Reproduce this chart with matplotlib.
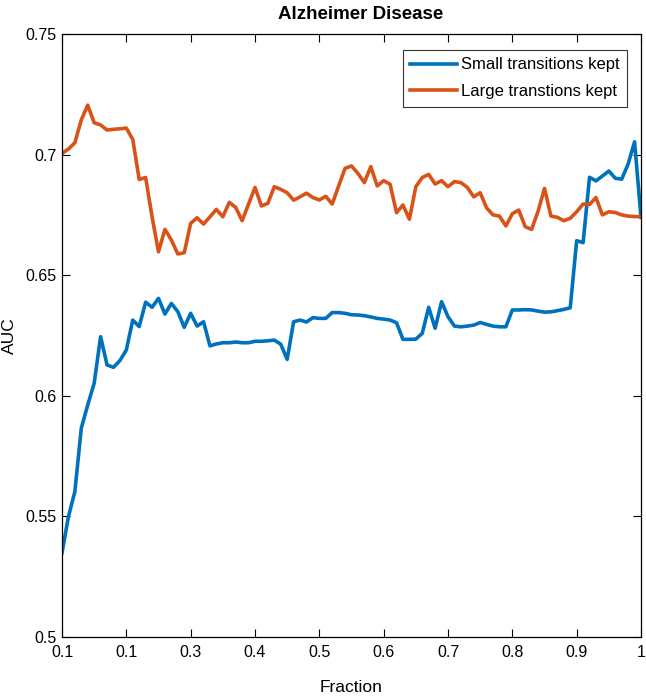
import numpy as np
import matplotlib
matplotlib.use("Agg")
import matplotlib.pyplot as plt

plt.rcParams['font.family'] = ['Liberation Sans', 'DejaVu Sans']

# ─── Data ────────────────────────────────────────────────────────────────────
fraction = np.round(np.arange(0.10, 1.0001, 0.01), 2)

small_kept = [
    0.5349, 0.5499, 0.5603, 0.5866, 0.5962, 0.6052, 0.6245, 0.6128, 0.6118, 0.6146,
    0.6190, 0.6314, 0.6287, 0.6388, 0.6367, 0.6404, 0.6339, 0.6383, 0.6349, 0.6284,
    0.6342, 0.6289, 0.6307, 0.6207, 0.6215, 0.6220, 0.6220, 0.6223, 0.6220, 0.6220,
    0.6226, 0.6226, 0.6228, 0.6231, 0.6214, 0.6151, 0.6307, 0.6314, 0.6306, 0.6324,
    0.6321, 0.6321, 0.6345, 0.6345, 0.6342, 0.6336, 0.6335, 0.6332, 0.6327, 0.6321,
    0.6318, 0.6314, 0.6303, 0.6234, 0.6234, 0.6235, 0.6259, 0.6367, 0.6280, 0.6390,
    0.6328, 0.6289, 0.6286, 0.6289, 0.6293, 0.6304, 0.6296, 0.6289, 0.6286, 0.6286,
    0.6356, 0.6356, 0.6357, 0.6356, 0.6351, 0.6347, 0.6348, 0.6353, 0.6358, 0.6365,
    0.6643, 0.6635, 0.6906, 0.6891, 0.6911, 0.6932, 0.6902, 0.6898, 0.6961, 0.7053,
    0.6740,
]

large_kept = [
    0.7005, 0.7023, 0.7049, 0.7144, 0.7205, 0.7132, 0.7123, 0.7102, 0.7105, 0.7107,
    0.7110, 0.7063, 0.6897, 0.6905, 0.6742, 0.6597, 0.6690, 0.6646, 0.6588, 0.6593,
    0.6715, 0.6738, 0.6712, 0.6742, 0.6773, 0.6742, 0.6802, 0.6781, 0.6726, 0.6795,
    0.6864, 0.6787, 0.6798, 0.6867, 0.6856, 0.6842, 0.6811, 0.6825, 0.6840, 0.6822,
    0.6812, 0.6827, 0.6795, 0.6870, 0.6943, 0.6953, 0.6922, 0.6884, 0.6950, 0.6870,
    0.6892, 0.6877, 0.6759, 0.6791, 0.6732, 0.6867, 0.6905, 0.6918, 0.6878, 0.6892,
    0.6867, 0.6888, 0.6884, 0.6864, 0.6825, 0.6842, 0.6779, 0.6750, 0.6745, 0.6704,
    0.6755, 0.6770, 0.6701, 0.6690, 0.6765, 0.6860, 0.6745, 0.6740, 0.6726, 0.6736,
    0.6763, 0.6795, 0.6793, 0.6822, 0.6750, 0.6763, 0.6760, 0.6750, 0.6745, 0.6743,
    0.6743,
]

x_ticks = [0.1, 0.2, 0.3, 0.4, 0.5, 0.6, 0.7, 0.8, 0.9, 1.0]
x_tick_labels = ['0.1', '0.1', '0.3', '0.4', '0.5', '0.6', '0.7', '0.8', '0.9', '1']
y_ticks = [0.5, 0.55, 0.6, 0.65, 0.7, 0.75]
y_tick_labels = ['0.5', '0.55', '0.6', '0.65', '0.7', '0.75']

# ─── Plot ────────────────────────────────────────────────────────────────────
fig = plt.figure(figsize=(6.46, 6.99), dpi=100)
ax = fig.add_axes([62 / 646, 62 / 699, 579 / 646, 603 / 699])

ax.plot(fraction, small_kept, color='#0072BD', lw=2.6, label='Small transitions kept')
ax.plot(fraction, large_kept, color='#D95319', lw=2.6, label='Large transtions kept')

ax.set_xlim(0.1, 1.0)
ax.set_ylim(0.5, 0.75)
ax.set_xticks(x_ticks)
ax.set_xticklabels(x_tick_labels)
ax.set_yticks(y_ticks)
ax.set_yticklabels(y_tick_labels)
ax.tick_params(direction='in', length=6, width=0.8, top=True, right=True,
               labelsize=11.5)
ax.tick_params(axis='x', pad=6)
ax.tick_params(axis='y', pad=4)
for s in ax.spines.values():
    s.set_linewidth(0.9)

ax.set_xlabel('Fraction', fontsize=12.5, labelpad=14)
ax.set_ylabel('AUC', fontsize=12.5, labelpad=6)
ax.set_title('Alzheimer Disease', fontsize=13.5, fontweight='bold', pad=11,
             x=0.516)

leg = ax.legend(loc='upper right', bbox_to_anchor=(627 / 646, 1 - 50 / 699),
                bbox_transform=fig.transFigure, fontsize=12, frameon=True,
                fancybox=False, edgecolor='black', handlelength=2.8,
                handletextpad=0.25, borderpad=0.45, labelspacing=0.7,
                borderaxespad=0)
leg.get_frame().set_linewidth(0.8)

plt.savefig('out.png', dpi=100)
plt.close()
